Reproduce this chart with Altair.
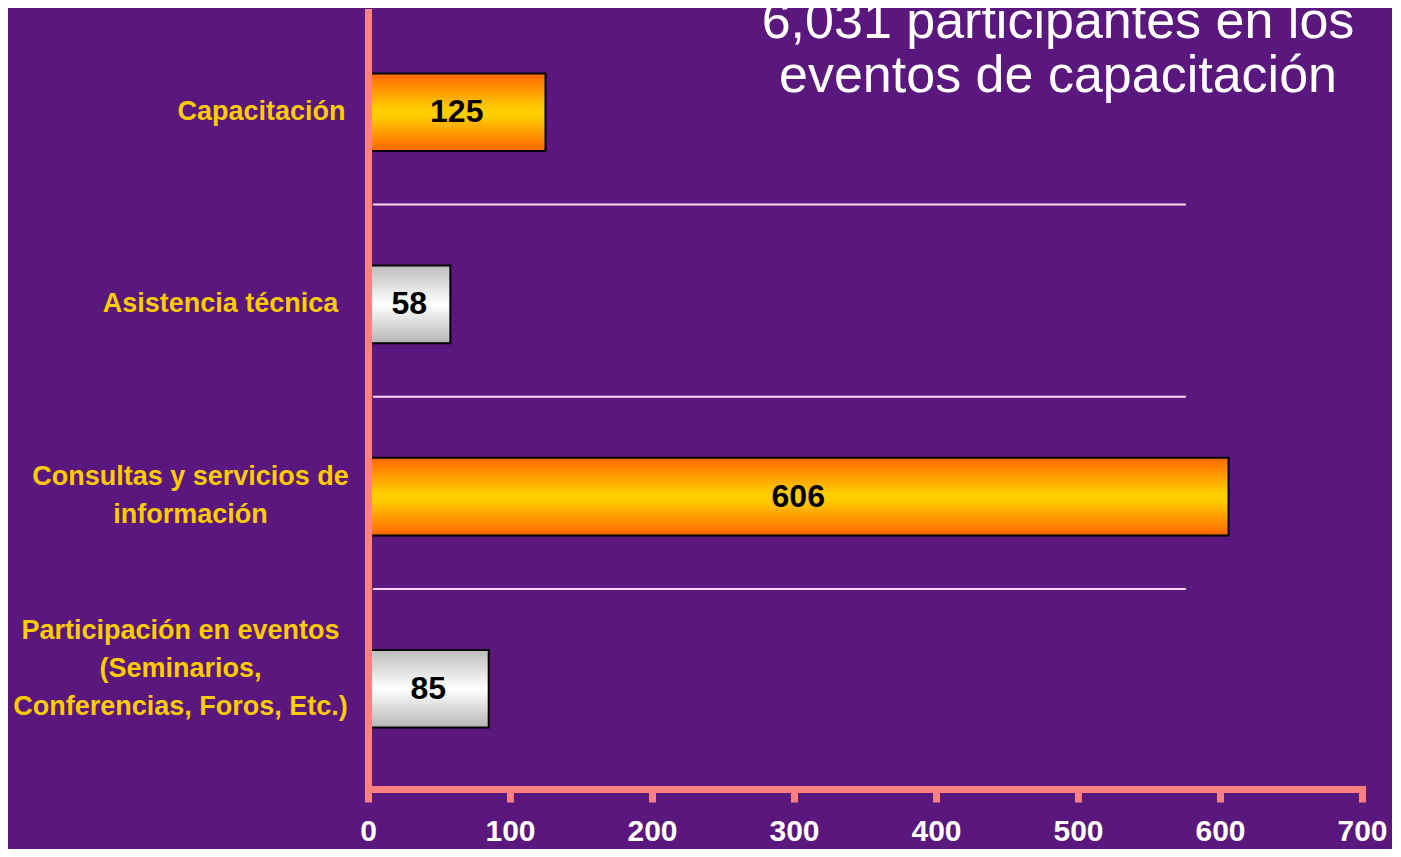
import altair as alt
import pandas as pd

# ---- data ----
categories = [
    "Capacitación",
    "Asistencia técnica",
    "Consultas y servicios de\ninformación",
    "Participación en eventos\n(Seminarios,\nConferencias, Foros, Etc.)",
]
values = [125, 58, 606, 85]
bar_styles = ["orange", "gray", "orange", "gray"]
title_lines = ["6,031 participantes en los", "eventos de capacitación"]
x_ticks = [0, 100, 200, 300, 400, 500, 600, 700]

df = pd.DataFrame({
    "cat": categories,
    "value": values,
    "style": bar_styles,
    "order": list(range(len(categories))),
})

PINK = "#ff8080"
GOLD = "#ffcc00"
BG = "#5a177d"
FONT = "Liberation Sans"

orange_grad = {
    "gradient": "linear", "x1": 0, "y1": 0, "x2": 0, "y2": 1,
    "stops": [
        {"offset": 0, "color": "#ff6600"},
        {"offset": 0.45, "color": "#ffcc00"},
        {"offset": 0.55, "color": "#ffcc00"},
        {"offset": 1, "color": "#ff6600"},
    ],
}
gray_grad = {
    "gradient": "linear", "x1": 0, "y1": 0, "x2": 0, "y2": 1,
    "stops": [
        {"offset": 0, "color": "#bdbdbd"},
        {"offset": 0.5, "color": "#ffffff"},
        {"offset": 1, "color": "#b5b5b5"},
    ],
}

y_scale = alt.Scale(domain=categories, paddingInner=0.596, paddingOuter=0.32)
x_scale = alt.Scale(domain=[0, 700], nice=False)

# label blocks: lines centred inside each block, blocks placed as in the reference
label_padding = {
    "condition": [
        {"test": "indexof(datum.value, 'Capacit') == 0", "value": 107},
        {"test": "indexof(datum.value, 'Asistencia') == 0", "value": 148},
        {"test": "indexof(datum.value, 'Consultas') == 0", "value": 178},
    ],
    "value": 188,
}
label_offset = {
    "condition": [
        {"test": "indexof(datum.value, 'Consultas') == 0", "value": -20},
        {"test": "indexof(datum.value, 'Participaci') == 0", "value": -58},
    ],
    "value": 0,
}

y_axis = alt.Axis(
    title=None, domain=True, domainColor=PINK, domainWidth=7, domainCap="square",
    ticks=False, grid=False, labelColor=GOLD, labelFont=FONT, labelFontWeight="bold",
    labelFontSize=27, labelLineHeight=38, labelPadding=label_padding,
    labelOffset=label_offset, labelAlign="center",
    labelBaseline="middle", labelLimit=500, zindex=1,
    labelExpr="split(datum.label, '\\n')",
)
x_axis = alt.Axis(
    title=None, values=x_ticks, domain=True, domainColor=PINK, domainWidth=7,
    domainCap="square", ticks=True, tickColor=PINK, tickWidth=7, tickSize=13,
    grid=False, labelColor="white", labelFont=FONT, labelFontWeight="bold",
    labelFontSize=30, labelPadding=14, labelFlush=False, labelOverlap=False,
    zindex=1,
)

base = alt.Chart(df)

bars_orange = base.transform_filter("datum.style == 'orange'").mark_bar(
    color=orange_grad, stroke="black", strokeWidth=2
).encode(
    x=alt.X("value:Q", scale=x_scale, axis=x_axis),
    y=alt.Y("cat:N", scale=y_scale, axis=y_axis),
)

bars_gray = base.transform_filter("datum.style == 'gray'").mark_bar(
    color=gray_grad, stroke="black", strokeWidth=2
).encode(
    x=alt.X("value:Q", scale=x_scale, axis=x_axis),
    y=alt.Y("cat:N", scale=y_scale, axis=y_axis),
)

labels = base.transform_calculate(mid="datum.value / 2").mark_text(
    font=FONT, fontWeight="bold", fontSize=32, color="black", baseline="middle"
).encode(
    x=alt.X("mid:Q", scale=x_scale),
    y=alt.Y("cat:N", scale=y_scale),
    text=alt.Text("value:Q"),
)

separators = base.transform_filter("datum.order > 0").mark_rule(
    color="#ffd6f0", strokeWidth=2, yOffset=-61
).encode(
    y=alt.Y("cat:N", scale=y_scale, bandPosition=0),
    x=alt.datum(3.5),
    x2=alt.datum(576),
)

title = alt.Chart(alt.Data(values=[{"t": 1}])).mark_text(
    font=FONT, fontSize=52, color="white", align="center",
    baseline="alphabetic", lineHeight=54,
).encode(
    text=alt.value(title_lines),
    x=alt.value(690),
    y=alt.value(26),
)

chart = alt.layer(separators, bars_orange, bars_gray, labels, title).properties(
    width=994,
    height=777,
    autosize=alt.AutoSizeParams(type="none"),
    padding={"left": 360, "top": 4, "right": 30, "bottom": 60},
    background=BG,
).configure_view(stroke=None)

chart.save("out.html", embed_options={"renderer": "svg", "actions": False})
